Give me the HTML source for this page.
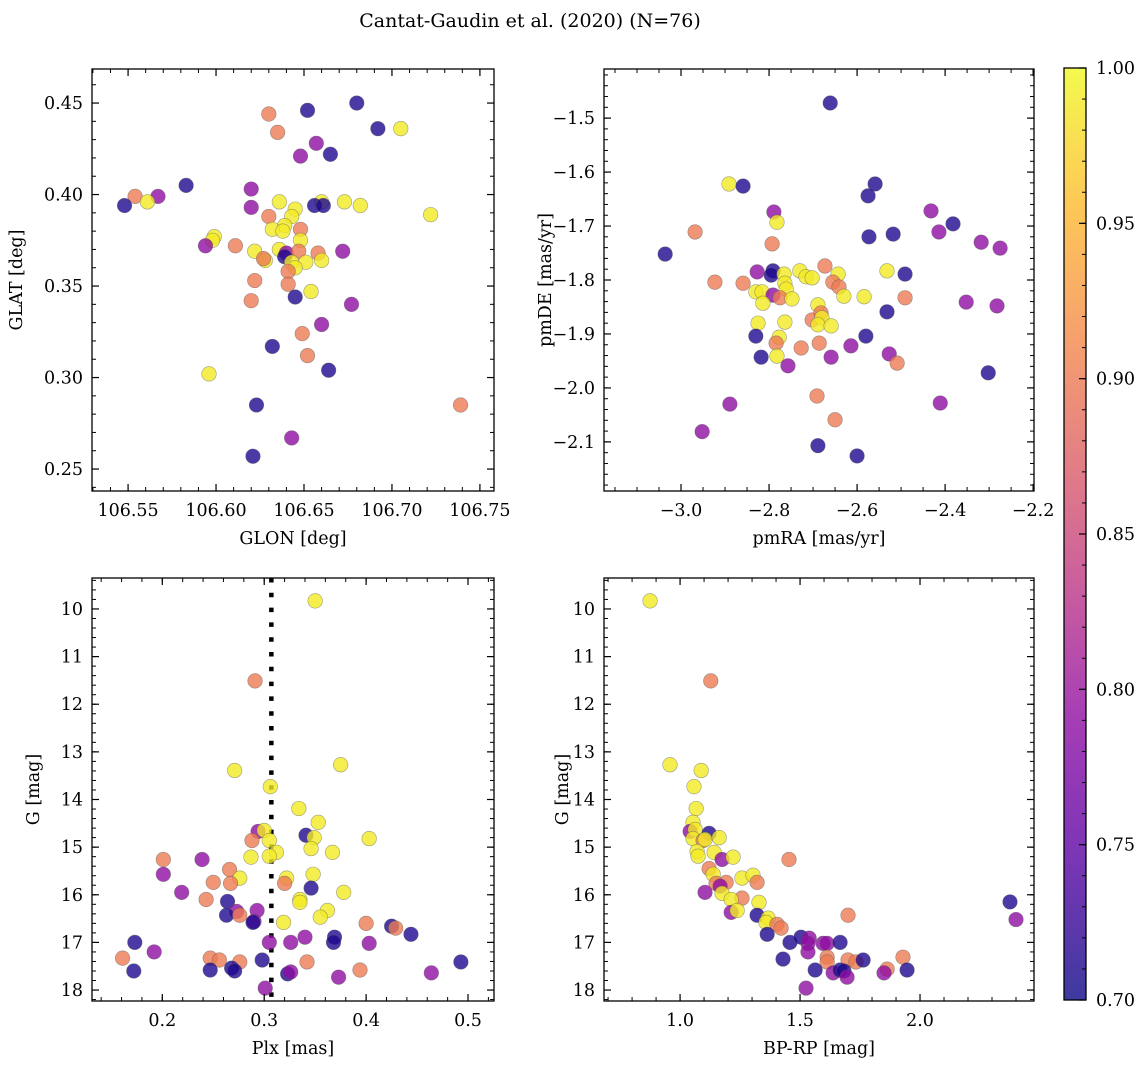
<!DOCTYPE html>
<html><head><meta charset="utf-8"><style>
html,body{margin:0;padding:0;background:#fff;}
svg text{font-family:"DejaVu Serif","Liberation Serif",serif;fill:#000;}
</style></head><body>
<svg id="fig" width="1148" height="1068" viewBox="0 0 1148 1068" xmlns="http://www.w3.org/2000/svg">
<rect width="1148" height="1068" fill="#fff"/>
<text x="530" y="27" font-size="19" text-anchor="middle">Cantat-Gaudin et al. (2020) (N=76)</text>
</svg>
<script>
// ---- Panel 1: GLON vs GLAT ----
const p1x=[106.680,106.652,106.630,106.705,106.692,106.635,106.657,106.648,106.665,106.583,106.620,106.554,106.567,106.561,106.548,106.660,106.673,106.682,106.656,106.661,106.620,106.722,106.636,106.645,106.630,106.643,106.639,106.632,106.638,106.648,106.599,106.598,106.648,106.672,106.622,106.611,106.594,106.636,106.640,106.647,106.658,106.639,106.628,106.643,106.651,106.660,106.645,106.641,106.622,106.641,106.654,106.645,106.620,106.677,106.660,106.649,106.632,106.652,106.664,106.596,106.739,106.623,106.643,106.621,106.627];
const p1y=[0.450,0.446,0.444,0.436,0.436,0.434,0.428,0.421,0.422,0.405,0.403,0.399,0.399,0.396,0.394,0.396,0.396,0.394,0.394,0.394,0.393,0.389,0.396,0.392,0.388,0.388,0.383,0.381,0.380,0.381,0.377,0.375,0.375,0.369,0.369,0.372,0.372,0.370,0.368,0.369,0.368,0.366,0.364,0.363,0.363,0.364,0.360,0.358,0.353,0.351,0.347,0.344,0.342,0.340,0.329,0.324,0.317,0.312,0.304,0.302,0.285,0.285,0.267,0.257,0.365];
const p1c=[0.71,0.71,0.90,0.99,0.71,0.90,0.79,0.79,0.71,0.71,0.79,0.90,0.79,0.99,0.71,0.99,0.99,0.99,0.71,0.71,0.79,0.99,0.99,0.99,0.90,0.99,0.99,0.99,0.99,0.90,0.99,0.99,0.99,0.79,0.99,0.90,0.79,0.99,0.79,0.90,0.90,0.71,0.99,0.99,0.99,0.99,0.99,0.90,0.90,0.90,0.99,0.71,0.90,0.79,0.79,0.90,0.71,0.90,0.71,0.99,0.90,0.71,0.79,0.71,0.90];
// ---- Panel 2: pmRA vs pmDE ----
const p2x=[-2.827,-2.791,-2.795,-2.859,-2.766,-2.730,-2.716,-2.702,-2.673,-2.643,-2.655,-2.641,-2.630,-2.584,-2.532,-2.764,-2.761,-2.830,-2.816,-2.791,-2.775,-2.814,-2.748,-2.532,-2.689,-2.702,-2.682,-2.680,-2.689,-2.659,-2.825,-2.764,-2.830,-2.580,-2.777,-2.784,-2.727,-2.686,-2.614,-2.818,-2.782,-2.659,-2.527,-2.757,-2.691,-2.509,-2.661,-2.891,-2.859,-2.559,-2.575,-2.968,-2.432,-2.414,-2.382,-2.318,-2.275,-2.573,-2.518,-2.789,-2.782,-3.036,-2.793,-2.923,-2.491,-2.352,-2.282,-2.491,-2.302,-2.411,-2.889,-2.952,-2.650,-2.689,-2.600];
const p2y=[-1.785,-1.783,-1.791,-1.806,-1.789,-1.783,-1.794,-1.796,-1.774,-1.789,-1.804,-1.813,-1.830,-1.831,-1.783,-1.806,-1.817,-1.822,-1.822,-1.828,-1.833,-1.843,-1.835,-1.859,-1.846,-1.874,-1.861,-1.870,-1.883,-1.885,-1.880,-1.878,-1.904,-1.904,-1.906,-1.917,-1.926,-1.917,-1.922,-1.943,-1.941,-1.943,-1.937,-1.959,-2.015,-1.954,-1.472,-1.622,-1.626,-1.622,-1.644,-1.711,-1.672,-1.711,-1.696,-1.730,-1.741,-1.720,-1.715,-1.674,-1.693,-1.752,-1.733,-1.804,-1.789,-1.841,-1.848,-1.833,-1.972,-2.028,-2.030,-2.081,-2.059,-2.107,-2.126];
const p2c=[0.79,0.71,0.71,0.90,0.99,0.99,0.99,0.99,0.90,0.99,0.90,0.90,0.99,0.99,0.99,0.99,0.99,0.99,0.99,0.79,0.90,0.99,0.99,0.71,0.99,0.90,0.90,0.99,0.99,0.99,0.99,0.99,0.71,0.71,0.99,0.90,0.90,0.90,0.79,0.71,0.99,0.79,0.79,0.79,0.90,0.90,0.71,0.99,0.71,0.71,0.71,0.90,0.79,0.79,0.71,0.79,0.79,0.71,0.71,0.79,0.99,0.71,0.90,0.90,0.71,0.79,0.79,0.90,0.71,0.79,0.79,0.79,0.90,0.71,0.71];
// ---- Panel 3: Plx vs G ----
const p3x=[0.350,0.291,0.271,0.375,0.306,0.334,0.353,0.294,0.300,0.341,0.349,0.403,0.288,0.305,0.346,0.367,0.312,0.287,0.305,0.201,0.239,0.266,0.201,0.348,0.322,0.276,0.250,0.267,0.320,0.346,0.219,0.378,0.243,0.264,0.335,0.335,0.362,0.273,0.293,0.263,0.276,0.355,0.290,0.289,0.319,0.400,0.425,0.429,0.444,0.173,0.305,0.326,0.340,0.369,0.368,0.403,0.192,0.161,0.247,0.256,0.276,0.298,0.342,0.493,0.172,0.247,0.268,0.271,0.323,0.326,0.394,0.464,0.373,0.301];
const p3y=[9.83,11.51,13.39,13.27,13.73,14.19,14.48,14.67,14.65,14.75,14.80,14.82,14.86,14.86,15.03,15.11,15.11,15.21,15.19,15.26,15.26,15.47,15.57,15.57,15.65,15.65,15.74,15.76,15.76,15.86,15.95,15.95,16.10,16.14,16.10,16.16,16.33,16.35,16.33,16.43,16.43,16.47,16.56,16.58,16.58,16.60,16.66,16.70,16.83,17.00,17.00,17.00,16.89,16.89,17.00,17.02,17.20,17.33,17.33,17.37,17.41,17.37,17.41,17.41,17.60,17.58,17.54,17.60,17.66,17.62,17.58,17.64,17.73,17.96];
const p3c=[0.99,0.90,0.99,0.99,0.99,0.99,0.99,0.79,0.99,0.71,0.99,0.99,0.90,0.99,0.99,0.99,0.99,0.99,0.99,0.90,0.79,0.90,0.79,0.99,0.99,0.99,0.90,0.90,0.90,0.71,0.79,0.99,0.90,0.71,0.99,0.99,0.99,0.79,0.79,0.71,0.90,0.99,0.79,0.71,0.99,0.90,0.71,0.90,0.71,0.71,0.79,0.79,0.79,0.71,0.71,0.79,0.79,0.90,0.90,0.90,0.90,0.71,0.90,0.71,0.71,0.71,0.71,0.71,0.71,0.79,0.90,0.79,0.79,0.79];
const plxMean=[0.307];
// ---- Panel 4: BP-RP vs G ----
const p4x=[0.875,1.128,1.088,0.958,1.058,1.067,1.054,1.042,1.063,1.121,1.054,1.096,1.104,1.163,1.071,1.075,1.142,1.175,1.221,1.454,1.121,1.138,1.258,1.304,1.321,1.192,1.150,1.167,1.104,1.175,1.258,1.213,1.329,1.213,1.238,1.321,1.700,1.367,1.358,1.404,1.421,1.363,1.458,1.504,1.538,1.533,1.596,1.613,1.667,1.533,1.429,1.613,1.613,1.700,1.733,1.763,1.929,1.863,1.850,1.946,1.563,1.638,1.667,1.683,1.696,1.525,2.375,2.400];
const p4y=[9.83,11.51,13.39,13.27,13.73,14.19,14.48,14.67,14.63,14.71,14.82,14.86,14.84,14.80,15.09,15.19,15.11,15.26,15.21,15.26,15.45,15.57,15.65,15.59,15.74,15.74,15.76,15.82,15.95,15.97,16.07,16.10,16.16,16.37,16.33,16.43,16.43,16.49,16.58,16.62,16.70,16.83,17.00,16.89,16.91,17.02,17.02,17.02,17.00,17.20,17.35,17.31,17.41,17.37,17.41,17.37,17.31,17.56,17.64,17.58,17.58,17.64,17.58,17.60,17.73,17.96,16.15,16.52];
const p4c=[0.99,0.90,0.99,0.99,0.99,0.99,0.99,0.79,0.99,0.71,0.99,0.90,0.99,0.99,0.99,0.99,0.99,0.79,0.99,0.90,0.90,0.99,0.99,0.99,0.90,0.90,0.90,0.79,0.79,0.99,0.90,0.99,0.99,0.79,0.99,0.71,0.90,0.99,0.99,0.90,0.90,0.71,0.71,0.71,0.79,0.79,0.79,0.79,0.71,0.79,0.71,0.90,0.90,0.90,0.90,0.71,0.90,0.90,0.79,0.71,0.71,0.79,0.71,0.71,0.79,0.79,0.71,0.79];
// ---- Colorbar ----
const cbTicks=["0.70","0.75","0.80","0.85","0.90","0.95","1.00"];

const NS="http://www.w3.org/2000/svg";
const svg=document.getElementById('fig');
const FS=17.5;
function mk(tag,attrs,parent){const e=document.createElementNS(NS,tag);for(const k in attrs)e.setAttribute(k,attrs[k]);(parent||svg).appendChild(e);return e;}
const stops=[[0,[13,8,135]],[0.14,[84,2,163]],[0.29,[139,10,165]],[0.43,[185,50,137]],[0.57,[219,92,104]],[0.71,[244,136,73]],[0.86,[254,188,43]],[1,[240,249,33]]];
function plasma(t){t=Math.max(0,Math.min(1,t));for(let i=1;i<stops.length;i++){if(t<=stops[i][0]){const a=stops[i-1],b=stops[i];const f=(t-a[0])/(b[0]-a[0]);return 'rgb('+a[1].map((v,j)=>Math.round(v+(b[1][j]-v)*f)).join(',')+')';}}return 'rgb(240,249,33)';}
const vmin=0.70,vmax=1.00;
function fmt(v,d){return v.toFixed(d).replace('-','−');}

function panel(cfg){
  const g=mk('g',{});
  
  
  const L=cfg.box[0],T=cfg.box[1],R=cfg.box[2],B=cfg.box[3];
  const sx=v=>L+(v-cfg.xr[0])/(cfg.xr[1]-cfg.xr[0])*(R-L);
  const sy=cfg.yinv?(v=>T+(v-cfg.yr[0])/(cfg.yr[1]-cfg.yr[0])*(B-T)):(v=>B-(v-cfg.yr[0])/(cfg.yr[1]-cfg.yr[0])*(B-T));
  if(cfg.extra) cfg.extra(g,sx,sy,T,B);
  for(let i=0;i<cfg.x.length;i++){
    const c=mk('circle',{cx:sx(cfg.x[i]),cy:sy(cfg.y[i]),r:7.3,fill:plasma((cfg.c[i]-vmin)/(vmax-vmin)),'fill-opacity':0.8,stroke:'#555','stroke-opacity':0.55,'stroke-width':0.6},g);
    
    
  }
  const fr=mk('rect',{x:L,y:T,width:R-L,height:B-T,fill:'none',stroke:'#000','stroke-width':1.3},g);
  
  
  const ticks=(lo,hi,st)=>{const a=[];const s=Math.ceil(lo/st-1e-6);for(let k=s;k*st<=hi+1e-9;k++)a.push(Math.round(k*st*1e6)/1e6);return a;};
  ticks(cfg.xr[0],cfg.xr[1],cfg.xminor).forEach(v=>{const x=sx(v);mk('line',{x1:x,x2:x,y1:B,y2:B-4,stroke:'#000','stroke-width':1},g);mk('line',{x1:x,x2:x,y1:T,y2:T+4,stroke:'#000','stroke-width':1},g);});
  ticks(Math.min(...cfg.yr),Math.max(...cfg.yr),cfg.yminor).forEach(v=>{const y=sy(v);mk('line',{x1:L,x2:L+4,y1:y,y2:y,stroke:'#000','stroke-width':1},g);mk('line',{x1:R,x2:R-4,y1:y,y2:y,stroke:'#000','stroke-width':1},g);});
  ticks(cfg.xr[0],cfg.xr[1],cfg.xmajor).forEach(v=>{const x=sx(v);mk('line',{x1:x,x2:x,y1:B,y2:B-7,stroke:'#000','stroke-width':1.2},g);mk('line',{x1:x,x2:x,y1:T,y2:T+7,stroke:'#000','stroke-width':1.2},g);
    const t=mk('text',{x:x,y:B+25,'font-size':FS,'text-anchor':'middle'},g);t.textContent=fmt(v,cfg.xd);
    
    });
  ticks(Math.min(...cfg.yr),Math.max(...cfg.yr),cfg.ymajor).forEach(v=>{const y=sy(v);mk('line',{x1:L,x2:L+7,y1:y,y2:y,stroke:'#000','stroke-width':1.2},g);mk('line',{x1:R,x2:R-7,y1:y,y2:y,stroke:'#000','stroke-width':1.2},g);
    const t=mk('text',{x:L-9,y:y+6,'font-size':FS,'text-anchor':'end'},g);t.textContent=fmt(v,cfg.yd);
    
    });
  const xl=mk('text',{x:(L+R)/2,y:B+53,'font-size':FS,'text-anchor':'middle'},g);xl.textContent=cfg.xlab;
  
  
  const yl=mk('text',{x:cfg.ylx,y:(T+B)/2,'font-size':FS,'text-anchor':'middle',transform:'rotate(-90 '+cfg.ylx+' '+((T+B)/2)+')'},g);yl.textContent=cfg.ylab;
  
  
}

panel({name:'glon-glat-panel',box:[92,69,494,491],xr:[106.5295,106.758],yr:[0.2380,0.4686],x:p1x,y:p1y,c:p1c,xmajor:0.05,xminor:0.01,ymajor:0.05,yminor:0.01,xd:2,yd:2,xlab:'GLON [deg]',ylab:'GLAT [deg]',ylx:22});
panel({name:'proper-motion-panel',box:[604,69,1034,491],xr:[-3.175,-2.198],yr:[-2.191,-1.409],x:p2x,y:p2y,c:p2c,xmajor:0.2,xminor:0.05,ymajor:0.1,yminor:0.02,xd:1,yd:1,xlab:'pmRA [mas/yr]',ylab:'pmDE [mas/yr]',ylx:551});
panel({name:'parallax-g-panel',box:[92,578,494,1001],xr:[0.131,0.5255],yr:[9.35,18.23],yinv:true,x:p3x,y:p3y,c:p3c,xmajor:0.1,xminor:0.02,ymajor:1,yminor:0.2,xd:1,yd:0,xlab:'Plx [mas]',ylab:'G [mag]',ylx:39,
  extra:(g,sx,sy,T,B)=>{const l=mk('line',{x1:sx(plxMean[0]),x2:sx(plxMean[0]),y1:T,y2:B,stroke:'#000','stroke-width':4.5,'stroke-dasharray':'4.5 10.3'},g);
    
    }});
panel({name:'cmd-panel',box:[604,578,1034,1001],xr:[0.683,2.475],yr:[9.35,18.23],yinv:true,x:p4x,y:p4y,c:p4c,xmajor:0.5,xminor:0.1,ymajor:1,yminor:0.2,xd:1,yd:0,xlab:'BP-RP [mag]',ylab:'G [mag]',ylx:568});

// colorbar
(function(){
  const L=1064,R=1086,T=68,B=1000;
  const defs=mk('defs',{});
  const grad=mk('linearGradient',{id:'cbgrad',x1:0,y1:1,x2:0,y2:0},defs);
  for(let i=0;i<=20;i++){mk('stop',{offset:i/20,'stop-color':plasma(i/20),'stop-opacity':0.8},grad);}
  const g=mk('g',{});
  
  
  mk('rect',{x:L,y:T,width:R-L,height:B-T,fill:'url(#cbgrad)'},g);
  mk('rect',{x:L,y:T,width:R-L,height:B-T,fill:'none',stroke:'#000','stroke-width':1.3},g);
  const sy=v=>B-(v-vmin)/(vmax-vmin)*(B-T);
  for(let k=0;k<=30;k++){const v=vmin+k*0.01;const y=sy(v);mk('line',{x1:R,x2:R-4,y1:y,y2:y,stroke:'#000','stroke-width':1},g);}
  cbTicks.forEach(s=>{const y=sy(parseFloat(s));mk('line',{x1:R,x2:R-7,y1:y,y2:y,stroke:'#000','stroke-width':1.2},g);
    const t=mk('text',{x:R+10,y:y+6,'font-size':FS},g);t.textContent=s;
    
    });
})();
</script>
</body></html>
